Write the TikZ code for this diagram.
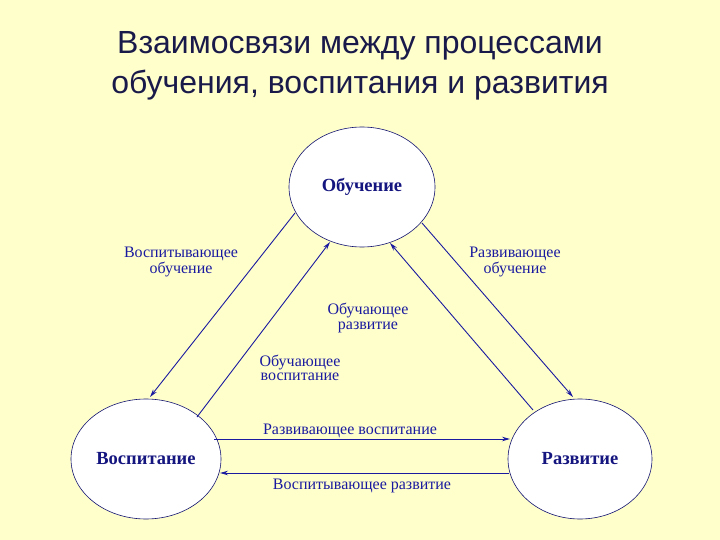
\documentclass[tikz,border=0pt]{standalone}
\usepackage{fontspec}
\setmainfont{Liberation Serif}
\newfontfamily\titlefont{Liberation Sans}
\usetikzlibrary{shapes.geometric,arrows.meta}
\definecolor{bg}{HTML}{FFFFCC}
\definecolor{ink}{HTML}{1A1AA0}
\definecolor{ttl}{HTML}{1A1A4A}
\begin{document}
\begin{tikzpicture}[x=1pt,y=-1pt,
  circ/.style={ellipse,draw=ink!70!black,fill=white,line width=0.6pt,minimum width=146pt,minimum height=120pt,inner sep=0pt,text=ink!80!black,font=\bfseries\fontsize{18.5}{20}\selectfont},
  lbl/.style={text=ink,font=\fontsize{16}{14.5}\selectfont,align=center,inner sep=1pt},
  arr/.style={draw=ink,line width=0.9pt,-{Stealth[length=8pt,width=4.5pt]}}]
\fill[bg] (0,0) rectangle (720,540);
\useasboundingbox (0,0) rectangle (720,540);
\node[text=ttl,font=\titlefont\fontsize{32}{40}\selectfont,align=center] (title) at (360,66) {Взаимосвязи между процессами\\обучения, воспитания и развития};
\node[circ] (ob) at (362,187) {Обучение};
\node[circ,minimum width=150pt] (vo) at (146,459) {Воспитание};
\node[circ,minimum width=144pt] (ra) at (580,459) {Развитие};
\coordinate (a1) at (295,213); \coordinate (a2) at (150,397);
\coordinate (b1) at (197,417); \coordinate (b2) at (330,242);
\coordinate (c1) at (533,410); \coordinate (c2) at (390,243);
\coordinate (d1) at (422,223); \coordinate (d2) at (573,397);
\coordinate (e1) at (214,439); \coordinate (e2) at (510,439);
\coordinate (f1) at (509,473); \coordinate (f2) at (220,473);
\draw[arr] (a1) -- (a2);
\draw[arr] (b1) -- (b2);
\draw[arr] (c1) -- (c2);
\draw[arr] (d1) -- (d2);
\draw[arr] (e1) -- (e2);
\draw[arr] (f1) -- (f2);
\node[lbl] (l1) at (181,262) {Воспитывающее\\обучение};
\node[lbl] (l2) at (515,262) {Развивающее\\обучение};
\node[lbl] (l3) at (368,318) {Обучающее\\развитие};
\node[lbl] (l4) at (300,368) {Обучающее\\воспитание};
\node[lbl] (l5) at (350,431) {Развивающее воспитание};
\node[lbl] (l6) at (362,486) {Воспитывающее развитие};
\end{tikzpicture}
\end{document}
